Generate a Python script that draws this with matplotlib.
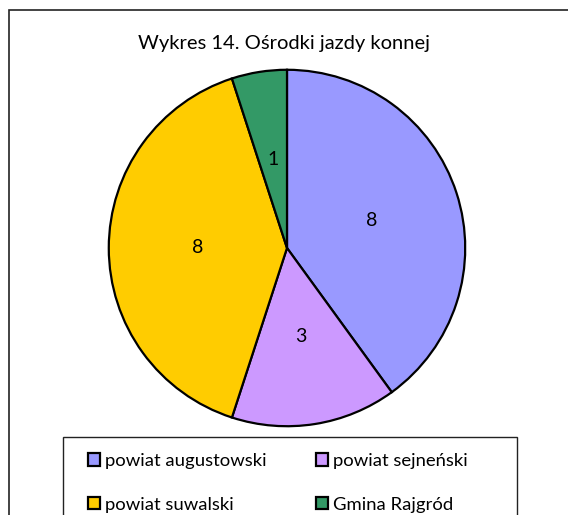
import matplotlib
matplotlib.use('Agg')
import matplotlib.pyplot as plt
from matplotlib.patches import Rectangle

plt.rcParams['font.family'] = ['Lato', 'DejaVu Sans']

# dane
kategorie = ['powiat augustowski', 'powiat sejneński', 'powiat suwalski', 'Gmina Rajgród']
wartosci = [8, 3, 8, 1]
kolory = ['#9999FF', '#CC99FF', '#FFCC00', '#339966']
tytul = 'Wykres 14. Ośrodki jazdy konnej'

W, H = 568, 515
fig = plt.figure(figsize=(W / 100, H / 100), dpi=100)
fig.patch.set_facecolor('white')

# ramka wykresu (wychodzi poza obraz z prawej i z dolu)
fig.patches.append(Rectangle((9 / W, -0.1), 1.0, 1 - 10 / H + 0.1, transform=fig.transFigure,
                             fill=False, edgecolor='#222222', linewidth=1.2))

cx, cy, r = 287, 248, 180
ax = fig.add_axes([(cx - r) / W, 1 - (cy + r) / H, 2 * r / W, 2 * r / H])
wedges, teksty = ax.pie(wartosci, colors=kolory, startangle=90, counterclock=False,
                        labels=[str(v) for v in wartosci], labeldistance=0.5,
                        wedgeprops={'edgecolor': 'black', 'linewidth': 1.6},
                        textprops={'fontsize': 14, 'ha': 'center', 'va': 'center'})
ax.set_xlim(-1.01, 1.01)
ax.set_ylim(-1.01, 1.01)
ax.set_aspect('equal')
ax.axis('off')

fig.text((cx - 3) / W, 1 - 43 / H, tytul, ha='center', va='center', fontsize=14.5)

# ramka legendy
fig.patches.append(Rectangle((63 / W, -0.1), (517 - 63) / W, 1 - 437 / H + 0.1,
                             transform=fig.transFigure, fill=False,
                             edgecolor='#222222', linewidth=1.0))

# legenda: wiersze jak w Excelu (matplotlib wypelnia kolumnami)
kolejnosc = [0, 2, 1, 3]
leg = fig.legend([wedges[i] for i in kolejnosc], [kategorie[i] for i in kolejnosc],
                 loc='upper left', ncol=2, bbox_to_anchor=(88 / W, 1 - 453 / H),
                 fontsize=13.3, frameon=False,
                 handlelength=0.65, handleheight=0.65, handletextpad=0.25,
                 labelspacing=1.5, columnspacing=2.7, borderpad=0, borderaxespad=0)

fig.savefig('out.png', dpi=100)
